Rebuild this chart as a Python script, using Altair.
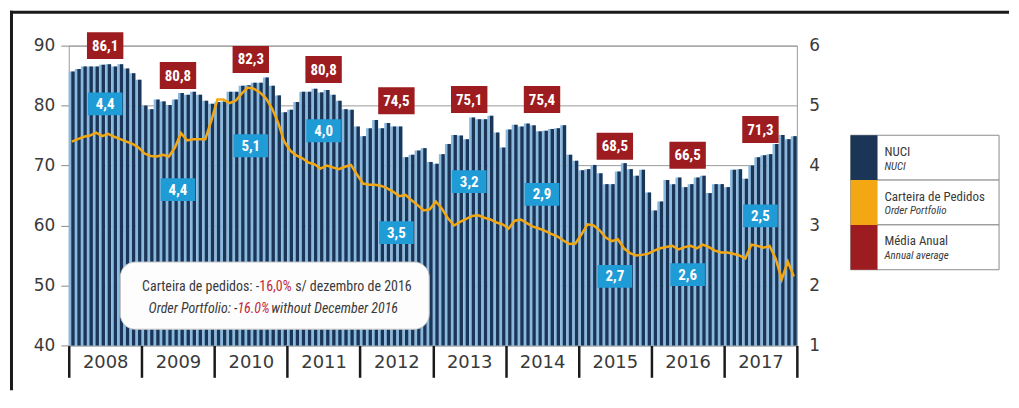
import altair as alt
import pandas as pd

# ---------------- data ----------------
years = [2008, 2009, 2010, 2011, 2012, 2013, 2014, 2015, 2016, 2017]

nuci_2008 = [85.7, 86.1, 86.5, 86.5, 86.5, 86.8, 86.9, 86.5, 86.9, 86.2, 85.4, 84.3]
nuci_2009 = [80.0, 79.4, 81.0, 80.7, 80.1, 81.0, 82.1, 81.8, 82.3, 81.8, 80.8, 80.3]
nuci_2010 = [80.6, 80.7, 82.3, 82.3, 83.3, 83.4, 83.8, 83.8, 84.7, 83.3, 81.7, 78.9]
nuci_2011 = [79.3, 80.6, 82.3, 82.3, 82.8, 82.2, 82.6, 81.8, 80.8, 79.4, 79.3, 76.5]
nuci_2012 = [74.9, 76.2, 77.6, 76.2, 77.1, 76.5, 76.5, 71.4, 71.8, 72.5, 72.9, 70.6]
nuci_2013 = [70.3, 71.9, 73.6, 75.1, 75.0, 74.4, 78.0, 77.7, 77.7, 78.3, 75.5, 73.0]
nuci_2014 = [76.0, 76.8, 76.5, 77.0, 76.7, 75.7, 75.8, 76.1, 76.2, 76.7, 71.8, 70.8]
nuci_2015 = [69.2, 69.4, 70.1, 68.7, 66.9, 66.9, 69.0, 70.4, 69.4, 68.3, 69.3, 65.5]
nuci_2016 = [62.5, 64.0, 67.6, 66.9, 68.0, 66.4, 66.9, 68.0, 68.3, 65.4, 66.9, 66.9]
nuci_2017 = [66.4, 69.3, 69.4, 67.8, 70.0, 71.4, 71.7, 71.9, 73.6, 75.1, 74.4, 74.9]

port_2008 = [4.40, 4.44, 4.48, 4.50, 4.55, 4.49, 4.53, 4.48, 4.44, 4.40, 4.36, 4.30]
port_2009 = [4.20, 4.16, 4.15, 4.18, 4.15, 4.30, 4.54, 4.42, 4.44, 4.44, 4.44, 4.75]
port_2010 = [5.10, 5.10, 5.04, 5.08, 5.20, 5.30, 5.28, 5.22, 5.12, 4.95, 4.72, 4.40]
port_2011 = [4.25, 4.17, 4.12, 4.05, 4.02, 3.95, 4.00, 3.97, 3.94, 3.98, 4.01, 3.85]
port_2012 = [3.70, 3.68, 3.68, 3.66, 3.62, 3.56, 3.49, 3.51, 3.42, 3.34, 3.25, 3.27]
port_2013 = [3.40, 3.28, 3.12, 3.00, 3.06, 3.11, 3.16, 3.17, 3.13, 3.10, 3.05, 3.02]
port_2014 = [2.95, 3.08, 3.10, 3.04, 2.98, 2.95, 2.91, 2.86, 2.82, 2.75, 2.69, 2.70]
port_2015 = [2.85, 3.02, 3.00, 2.92, 2.80, 2.74, 2.77, 2.62, 2.54, 2.50, 2.51, 2.53]
port_2016 = [2.58, 2.62, 2.64, 2.66, 2.60, 2.64, 2.66, 2.62, 2.68, 2.64, 2.58, 2.55]
port_2017 = [2.55, 2.53, 2.50, 2.45, 2.68, 2.66, 2.63, 2.66, 2.45, 2.10, 2.40, 2.15]

annual_avg = [86.1, 80.8, 82.3, 80.8, 74.5, 75.1, 75.4, 68.5, 66.5, 71.3]
annual_portfolio = [4.4, 4.4, 5.1, 4.0, 3.5, 3.2, 2.9, 2.7, 2.6, 2.5]

# label anchors (annotation placement, in axis units)
avg_label_y = [90.0, 85.0, 87.7, 86.0, 80.8, 81.0, 81.0, 73.2, 71.7, 76.0]
portfolio_label_y = [5.03, 3.60, 4.33, 4.58, 2.88, 3.73, 3.52, 2.15, 2.18, 3.16]

legend_pt = ["NUCI", "Carteira de Pedidos", "Média Anual"]
legend_en = ["NUCI", "Order Portfolio", "Annual average"]

note_pt = ["Carteira de pedidos: -", "16,0%", "s/ dezembro de 2016"]
note_en = ["Order Portfolio: -", "16.0%", "without December 2016"]

# ---------------- styles ----------------
NAVY = "#1b3556"
LIGHT = "#8ab9e0"
ORANGE = "#f3a712"
RED = "#9d1c20"
BLUE = "#1f9bd6"
GRID = "#9a9a9a"
TXT = "#3a3a3a"
NOTE_RED = "#c0283a"
COND = "Roboto Condensed, DejaVu Sans Condensed, Liberation Sans Narrow, Roboto, sans-serif"
AX = "DejaVu Sans"

nuci = (nuci_2008 + nuci_2009 + nuci_2010 + nuci_2011 + nuci_2012 +
        nuci_2013 + nuci_2014 + nuci_2015 + nuci_2016 + nuci_2017)
portfolio = (port_2008 + port_2009 + port_2010 + port_2011 + port_2012 +
             port_2013 + port_2014 + port_2015 + port_2016 + port_2017)

monthly = pd.DataFrame({"m": list(range(len(nuci))), "nuci": nuci, "portfolio": portfolio})
yearly = pd.DataFrame({
    "year": years,
    "mid": [12 * k + 6 for k in range(len(years))],
    "avg_txt": [f"{v:.1f}".replace(".", ",") for v in annual_avg],
    "port_txt": [f"{v:.1f}".replace(".", ",") for v in annual_portfolio],
    "avg_y": avg_label_y,
    "port_y": portfolio_label_y,
})

W, H = 731, 301

x_scale = alt.Scale(domain=[0, 120], nice=False, zero=False)
yl_scale = alt.Scale(domain=[40, 90], nice=False, zero=False)
yr_scale = alt.Scale(domain=[1, 6], nice=False, zero=False)

year_arr = "[" + ",".join(f"'{y}'" for y in years) + "]"
x_axis = alt.Axis(
    values=list(range(0, 121, 6)), title=None, grid=False, domain=False,
    tickSize=32, tickWidth=2.5,
    tickColor={"condition": {"test": "datum.value % 12 === 0", "value": "#1a1a1a"}, "value": "transparent"},
    labelExpr=f"datum.value % 12 === 6 ? {year_arr}[floor(datum.value / 12)] : ''",
    labelFont=AX, labelFontSize=18, labelColor=TXT, labelPadding=-24,
    labelOverlap=False, labelFlush=False,
)
yl_axis = alt.Axis(values=[40, 50, 60, 70, 80, 90], title=None, grid=True, gridColor=GRID,
                   domain=False, tickColor="#888888", tickSize=8, labelPadding=6,
                   labelFont=AX, labelFontSize=17, labelColor=TXT)
yr_axis = alt.Axis(orient="right", values=[1, 2, 3, 4, 5, 6], title=None, grid=False,
                   domain=False, ticks=False, labelPadding=12,
                   labelFont=AX, labelFontSize=17, labelColor=TXT)

one = pd.DataFrame({"k": [0]})

frame_top = alt.Chart(one).mark_rule(color="#1a1a1a", strokeWidth=3).encode(
    x=alt.value(-59), x2=alt.value(944), y=alt.value(-33.5))
frame_left = alt.Chart(one).mark_rule(color="#1a1a1a", strokeWidth=3).encode(
    x=alt.value(-57.5), y=alt.value(-35), y2=alt.value(346))

bars_light = alt.Chart(monthly).transform_calculate(
    x0="datum.m", x1="datum.m + 1"
).mark_bar(color=LIGHT).encode(
    x=alt.X("x0:Q", scale=x_scale, axis=x_axis),
    x2="x1:Q",
    y=alt.Y("nuci:Q", scale=yl_scale, axis=yl_axis),
    y2=alt.datum(40),
)
bars_dark = alt.Chart(monthly).transform_calculate(
    x0="datum.m + 0.42", x1="datum.m + 0.97"
).mark_bar(color=NAVY).encode(
    x=alt.X("x0:Q", scale=x_scale, axis=x_axis),
    x2="x1:Q",
    y=alt.Y("nuci:Q", scale=yl_scale, axis=yl_axis),
    y2=alt.datum(40),
)

# rounded note box
note_box = pd.DataFrame({"x0": [8.5], "x1": [59.4], "y0": [42.7], "y1": [53.9]})
note_rect = alt.Chart(note_box).mark_rect(
    fill="#fdfdfd", stroke="#c8c8c8", strokeWidth=1, cornerRadius=15
).encode(
    x=alt.X("x0:Q", scale=x_scale, axis=x_axis), x2="x1:Q",
    y=alt.Y("y0:Q", scale=yl_scale, axis=yl_axis), y2="y1:Q",
)


def note_part(text, xpos, ypos, align, dx, color, style):
    df = pd.DataFrame({"t": [text], "x": [xpos], "y": [ypos]})
    return alt.Chart(df).mark_text(
        align=align, baseline="middle", dx=dx, color=color, fontStyle=style,
        font=COND, fontSize=14
    ).encode(
        x=alt.X("x:Q", scale=x_scale, axis=x_axis),
        y=alt.Y("y:Q", scale=yl_scale, axis=yl_axis),
        text="t:N",
    )


NX1, NX2 = 31.4, 27.8
note_layers = [
    note_part(note_pt[0], NX1, 49.7, "right", 0, TXT, "normal"),
    note_part(note_pt[1], NX1, 49.7, "left", 0, NOTE_RED, "normal"),
    note_part(note_pt[2], NX1, 49.7, "left", 36, TXT, "normal"),
    note_part(note_en[0], NX2, 46.1, "right", 0, TXT, "italic"),
    note_part(note_en[1], NX2, 46.1, "left", 0, NOTE_RED, "italic"),
    note_part(note_en[2], NX2, 46.1, "left", 34, TXT, "italic"),
]

red_rect = alt.Chart(yearly).transform_calculate(
    bx0="datum.mid - 3", bx1="datum.mid + 3",
    by0="datum.avg_y - 2.25", by1="datum.avg_y + 2.25"
).mark_rect(color=RED).encode(
    x=alt.X("bx0:Q", scale=x_scale, axis=x_axis), x2="bx1:Q",
    y=alt.Y("by0:Q", scale=yl_scale, axis=yl_axis), y2="by1:Q",
)
red_text = alt.Chart(yearly).mark_text(
    color="white", fontWeight="bold", fontSize=15, font=COND, baseline="middle"
).encode(
    x=alt.X("mid:Q", scale=x_scale, axis=x_axis),
    y=alt.Y("avg_y:Q", scale=yl_scale, axis=yl_axis),
    text="avg_txt:N",
)

left_group = alt.layer(frame_top, frame_left, bars_light, bars_dark, note_rect,
                       *note_layers, red_rect, red_text)

line = alt.Chart(monthly).transform_calculate(xc="datum.m + 0.5").mark_line(
    color=ORANGE, strokeWidth=2.5
).encode(
    x=alt.X("xc:Q", scale=x_scale, axis=x_axis),
    y=alt.Y("portfolio:Q", scale=yr_scale, axis=yr_axis),
)
blue_rect = alt.Chart(yearly).transform_calculate(
    bx0="datum.mid - 2.85", bx1="datum.mid + 2.85",
    by0="datum.port_y - 0.19", by1="datum.port_y + 0.19"
).mark_rect(color=BLUE).encode(
    x=alt.X("bx0:Q", scale=x_scale, axis=x_axis), x2="bx1:Q",
    y=alt.Y("by0:Q", scale=yr_scale, axis=yr_axis), y2="by1:Q",
)
blue_text = alt.Chart(yearly).mark_text(
    color="white", fontWeight="bold", fontSize=15, font=COND, baseline="middle"
).encode(
    x=alt.X("mid:Q", scale=x_scale, axis=x_axis),
    y=alt.Y("port_y:Q", scale=yr_scale, axis=yr_axis),
    text="port_txt:N",
)

right_group = alt.layer(line, blue_rect, blue_text)

main = alt.layer(left_group, right_group).resolve_scale(y="independent").properties(
    width=W, height=H, view=alt.ViewBackground(stroke=GRID, strokeWidth=1)
)

# ---------------- legend panel ----------------
legend_df = pd.DataFrame({"pt": legend_pt, "en": legend_en, "col": [NAVY, ORANGE, RED]})
ly = alt.Y("pt:N", scale=alt.Scale(domain=legend_pt, range=[90, 225], paddingInner=0, paddingOuter=0), axis=None)

leg_box = alt.Chart(legend_df).mark_rect(fill="white", stroke="#8c8c8c", strokeWidth=1).encode(
    y=ly, x=alt.value(0), x2=alt.value(149))
leg_sw = alt.Chart(legend_df).mark_rect().encode(
    y=ly, x=alt.value(0), x2=alt.value(27), fill=alt.Fill("col:N", scale=None))
leg_t1 = alt.Chart(legend_df).mark_text(align="left", baseline="middle", dy=-6, font=COND,
                                        fontSize=13, color=TXT).encode(
    y=ly, x=alt.value(34), text="pt:N")
leg_t2 = alt.Chart(legend_df).mark_text(align="left", baseline="middle", dy=9, font=COND,
                                        fontSize=11, fontStyle="italic", color=TXT).encode(
    y=ly, x=alt.value(34), text="en:N")

legend = alt.layer(leg_box, leg_sw, leg_t1, leg_t2).properties(
    width=149, height=H, view=alt.ViewBackground(stroke="transparent")
)

chart = alt.hconcat(main, legend, spacing=54, bounds="flush").properties(
    padding=0, background="white"
)

chart.save("out.html", embed_options={"renderer": "svg", "actions": False})
